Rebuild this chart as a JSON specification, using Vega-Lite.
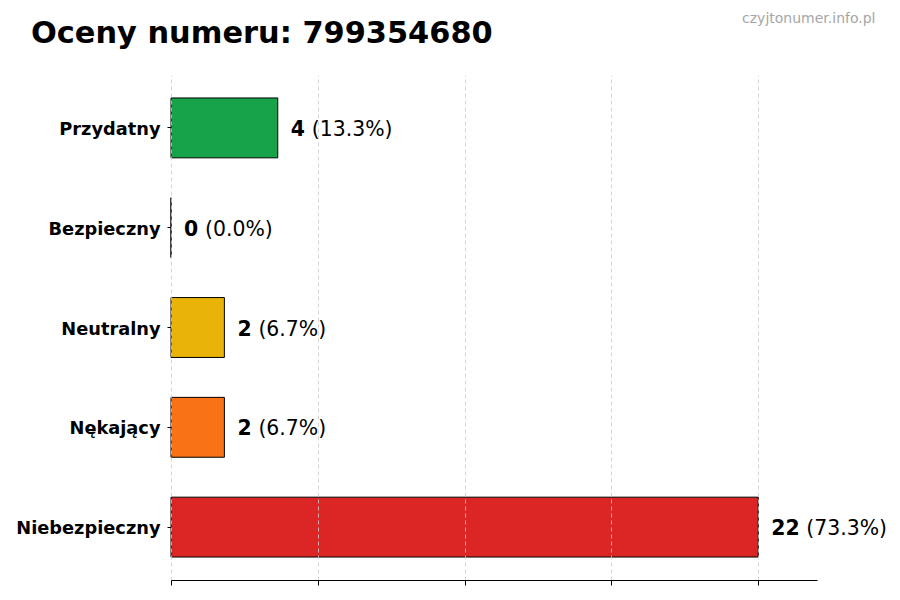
{
  "$schema": "https://vega.github.io/schema/vega-lite/v6.json",
  "width": 646,
  "height": 505,
  "autosize": {"type": "none"},
  "padding": {"left": 171, "top": 75, "right": 83, "bottom": 20},
  "background": "white",
  "config": {"font": "DejaVu Sans", "view": {"stroke": null}},
  "title": {
    "text": "Oceny numeru: 799354680",
    "anchor": "start",
    "frame": "group",
    "dx": -140,
    "offset": -38,
    "fontSize": 30.4,
    "fontWeight": "bold",
    "color": "black",
    "font": "DejaVu Sans"
  },
  "data": {
    "values": [
      {"category": "Przydatny", "count": 4, "pct": "(13.3%)"},
      {"category": "Bezpieczny", "count": 0, "pct": "(0.0%)"},
      {"category": "Neutralny", "count": 2, "pct": "(6.7%)"},
      {"category": "Nękający", "count": 2, "pct": "(6.7%)"},
      {"category": "Niebezpieczny", "count": 22, "pct": "(73.3%)"}
    ]
  },
  "encoding": {
    "y": {
      "field": "category",
      "type": "nominal",
      "sort": null,
      "scale": {"paddingInner": 0.4, "paddingOuter": 0.23},
      "axis": {
        "title": null,
        "domain": false,
        "ticks": true,
        "tickSize": 4,
        "tickColor": "black",
        "labelFontSize": 17.8,
        "labelFontWeight": "bold",
        "labelColor": "black",
        "labelPadding": 7,
        "labelOffset": 2
      }
    }
  },
  "layer": [
    {
      "mark": {"type": "bar", "stroke": "black", "strokeWidth": 1},
      "encoding": {
        "x": {
          "field": "count",
          "type": "quantitative",
          "scale": {"domain": [0, 24.2], "nice": false},
          "axis": {
            "title": null,
            "values": [0, 5.5, 11, 16.5, 22],
            "labels": false,
            "grid": true,
            "gridColor": "#cccccc",
            "gridDash": [4, 3],
            "gridWidth": 0.8,
            "domain": true,
            "domainColor": "black",
            "domainWidth": 1,
            "ticks": true,
            "tickColor": "black",
            "tickSize": 5,
            "zindex": 1
          }
        },
        "color": {
          "field": "category",
          "type": "nominal",
          "legend": null,
          "scale": {
            "domain": ["Przydatny", "Bezpieczny", "Neutralny", "Nękający", "Niebezpieczny"],
            "range": ["#16a34a", "#3b82f6", "#eab308", "#f97316", "#dc2626"]
          }
        }
      }
    },
    {
      "mark": {"type": "text", "align": "left", "baseline": "middle", "dx": 13, "dy": 2, "fontSize": 20.4, "fontWeight": "bold", "color": "black"},
      "encoding": {
        "x": {"field": "count", "type": "quantitative", "axis": null},
        "text": {"field": "count", "type": "quantitative"}
      }
    },
    {
      "transform": [{"filter": "datum.count < 10"}],
      "mark": {"type": "text", "align": "left", "baseline": "middle", "dx": 34, "dy": 2, "fontSize": 20.4, "color": "black"},
      "encoding": {
        "x": {
          "field": "count",
          "type": "quantitative",
          "axis": {
            "orient": "top",
            "labels": false,
            "ticks": false,
            "domain": false,
            "grid": false,
            "title": "czyjtonumer.info.pl",
            "titleFontSize": 14,
            "titleFontWeight": "normal",
            "titleColor": "#a6a6a6",
            "titleAlign": "right",
            "titleAnchor": null,
            "titleX": 704,
            "titleY": -53,
            "titleBaseline": "alphabetic"
          }
        },
        "text": {"field": "pct", "type": "nominal"}
      }
    },
    {
      "transform": [{"filter": "datum.count >= 10"}],
      "mark": {"type": "text", "align": "left", "baseline": "middle", "dx": 48, "dy": 2, "fontSize": 20.4, "color": "black"},
      "encoding": {
        "x": {"field": "count", "type": "quantitative", "axis": null},
        "text": {"field": "pct", "type": "nominal"}
      }
    }
  ],
  "resolve": {"axis": {"x": "independent"}}
}
